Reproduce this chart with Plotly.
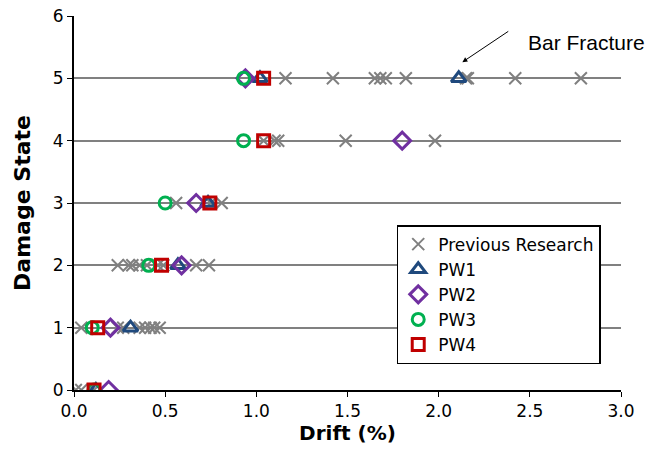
import plotly.graph_objects as go

# Previous research (drift %, damage state)
prev_drift = [0.01, 0.04, 0.11,
              0.04, 0.24, 0.27, 0.36, 0.39, 0.42, 0.44, 0.47,
              0.24, 0.30, 0.32, 0.36, 0.40, 0.46, 0.49, 0.67, 0.74,
              0.56, 0.75, 0.81,
              1.04, 1.10, 1.12, 1.49, 1.98,
              1.16, 1.42, 1.65, 1.68, 1.71, 1.82, 2.15, 2.16, 2.42, 2.78]
prev_ds = [0, 0, 0,
           1, 1, 1, 1, 1, 1, 1, 1,
           2, 2, 2, 2, 2, 2, 2, 2, 2,
           3, 3, 3,
           4, 4, 4, 4, 4,
           5, 5, 5, 5, 5, 5, 5, 5, 5, 5]

pw1_drift = [0.12, 0.31, 0.57, 0.735, 1.02, 2.11]
pw1_ds = [0, 1, 2, 3, 5, 5]
pw2_drift = [0.19, 0.20, 0.59, 0.67, 1.80, 0.94]
pw2_ds = [0, 1, 2, 3, 4, 5]
pw3_drift = [0.11, 0.10, 0.41, 0.50, 0.93, 0.93]
pw3_ds = [0, 1, 2, 3, 4, 5]
pw4_drift = [0.11, 0.13, 0.48, 0.745, 1.04, 1.04]
pw4_ds = [0, 1, 2, 3, 4, 5]

x_ticks = [0.0, 0.5, 1.0, 1.5, 2.0, 2.5, 3.0]
y_ticks = [0, 1, 2, 3, 4, 5, 6]

FONT = "DejaVu Sans"

fig = go.Figure()
fig.add_trace(go.Scatter(x=prev_drift, y=prev_ds, mode="markers", name="Previous Research",
                         marker=dict(symbol="x-thin-open", size=12, color="#808080",
                                     line=dict(color="#808080", width=2))))
fig.add_trace(go.Scatter(x=pw1_drift, y=pw1_ds, mode="markers", name="PW1",
                         marker=dict(symbol="triangle-up-open", size=13, color="#1F497D",
                                     line=dict(color="#1F497D", width=3))))
fig.add_trace(go.Scatter(x=pw2_drift, y=pw2_ds, mode="markers", name="PW2",
                         marker=dict(symbol="diamond-open", size=13, color="#7030A0",
                                     line=dict(color="#7030A0", width=3))))
fig.add_trace(go.Scatter(x=pw3_drift, y=pw3_ds, mode="markers", name="PW3",
                         marker=dict(symbol="circle-open", size=12, color="#00B050",
                                     line=dict(color="#00B050", width=3))))
fig.add_trace(go.Scatter(x=pw4_drift, y=pw4_ds, mode="markers", name="PW4",
                         marker=dict(symbol="square-open", size=12, color="#C00000",
                                     line=dict(color="#C00000", width=3))))

fig.add_annotation(x=2.13, y=5.26, ax=2.39, ay=5.77, xref="x", yref="y", axref="x", ayref="y",
                   text="", showarrow=True, arrowhead=2, arrowsize=1, arrowwidth=1, arrowcolor="black")
fig.add_annotation(x=2.48, y=5.58, xref="x", yref="y", text="Bar Fracture", showarrow=False,
                   xanchor="left", yanchor="middle",
                   font=dict(family="Liberation Sans, Arial", size=21, color="black"))

fig.update_layout(
    width=649, height=463,
    margin=dict(l=74, r=28, t=16, b=73, autoexpand=False),
    paper_bgcolor="white", plot_bgcolor="white",
    font=dict(family=FONT, size=17, color="black"),
    showlegend=True,
    legend=dict(x=0.59, y=0.441, xanchor="left", yanchor="top",
                bgcolor="white", bordercolor="black", borderwidth=1.5,
                font=dict(family=FONT, size=17, color="black"),
                itemwidth=30, tracegroupgap=0),
    xaxis=dict(range=[0, 3], tickvals=x_ticks, ticktext=[f"{v:.1f}" for v in x_ticks],
               showgrid=False, zeroline=False, showline=True, linecolor="black", linewidth=2,
               ticks="outside", ticklen=5, tickcolor="black", automargin=False,
               title=dict(text="<b>Drift (%)</b>", font=dict(family=FONT, size=20), standoff=6)),
    yaxis=dict(range=[0, 6], tickvals=y_ticks, ticktext=[str(v) for v in y_ticks],
               showgrid=True, gridcolor="#808080", gridwidth=1.5, zeroline=False,
               showline=True, linecolor="black", linewidth=2,
               ticks="outside", ticklen=5, tickcolor="black", automargin=False,
               title=dict(text="<b>Damage State</b>", font=dict(family=FONT, size=22), standoff=16)),
)

# remove the browser's default 8px page margin so the figure sits at the window origin
fig.write_html("out.html", config={"displayModeBar": False},
               post_script="document.body.style.margin='0';document.body.style.overflow='hidden';")
